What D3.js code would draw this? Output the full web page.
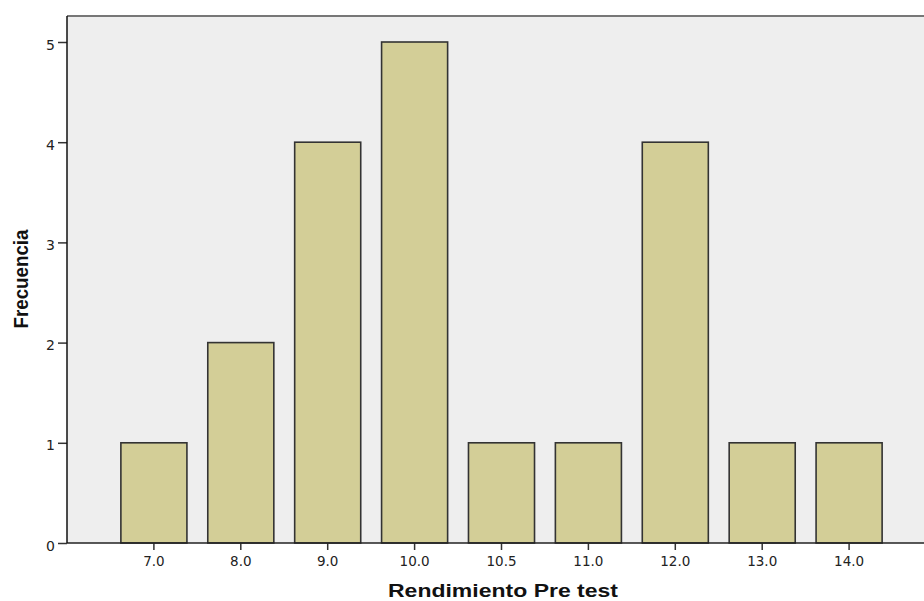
<!DOCTYPE html>
<html><head><meta charset="utf-8">
<script src="https://cdn.jsdelivr.net/npm/d3@7"></script>
<style>body{margin:0;background:#fff;overflow:hidden}</style>
</head><body>
<svg id="c" width="924" height="601"></svg>
<script>
const categories = ["7.0","8.0","9.0","10.0","10.5","11.0","12.0","13.0","14.0"];
const frequencies = [1,2,4,5,1,1,4,1,1];
const yTicks = [0,1,2,3,4,5];

(function(){
const svg = d3.select("#c");
const pL = 67, pT = 16, pB = 543, pR = 936;
const step = 86.9;
const x = d3.scaleBand().domain(categories)
  .range([pL + step/2, pR - step/2]).paddingInner(0.24).paddingOuter(0.12);
const y = d3.scaleLinear().domain([0,5]).range([pB, 42]);

svg.append("rect").attr("x", pL).attr("y", pT).attr("width", pR-pL).attr("height", pB-pT)
  .attr("fill", "#eeeeee");
svg.append("line").attr("x1", pL).attr("x2", pR).attr("y1", pT).attr("y2", pT)
  .attr("stroke", "#777").attr("stroke-width", 2);

svg.selectAll("rect.bar").data(frequencies).enter().append("rect").attr("class","bar")
  .attr("x", (d,i)=>x(categories[i])).attr("width", x.bandwidth())
  .attr("y", d=>y(d)).attr("height", d=>pB - y(d))
  .attr("fill", "#d3ce97").attr("stroke", "#333").attr("stroke-width", 1.6);

const xa = svg.append("g").attr("transform", `translate(0,${pB})`)
  .call(d3.axisBottom(x).tickSize(7).tickPadding(6).tickSizeOuter(0));
xa.select(".domain").remove();
svg.append("line").attr("x1", pL).attr("x2", pR).attr("y1", pB).attr("y2", pB)
  .attr("stroke", "#222").attr("stroke-width", 1.5);

const ya = svg.append("g").attr("transform", `translate(${pL},0)`)
  .call(d3.axisLeft(y).tickValues(yTicks).tickFormat(d3.format("d")).tickSize(9).tickPadding(3).tickSizeOuter(0));
ya.select(".domain").remove();
svg.append("line").attr("x1", pL).attr("x2", pL).attr("y1", pT).attr("y2", pB)
  .attr("stroke", "#111").attr("stroke-width", 1.5);

svg.selectAll(".tick line").attr("stroke", "#333").attr("stroke-width", 1.5);
xa.selectAll(".tick text").attr("font-family", "DejaVu Sans, sans-serif").attr("font-size", 13.5).attr("fill", "#222");
ya.selectAll(".tick text").attr("font-family", "DejaVu Sans, sans-serif").attr("font-size", 14).attr("fill", "#222")
  .attr("dy", "0.5em");

svg.append("text").attr("x", 503).attr("y", 597).attr("text-anchor", "middle")
  .attr("font-family", "Liberation Sans, Arial, sans-serif").attr("font-weight", "bold").attr("font-size", 18)
  .attr("textLength", 230).attr("lengthAdjust", "spacingAndGlyphs")
  .attr("fill", "#111").text("Rendimiento Pre test");
svg.append("text").attr("transform", "translate(28,279) rotate(-90)").attr("text-anchor", "middle")
  .attr("font-family", "Liberation Sans, Arial, sans-serif").attr("font-weight", "bold").attr("font-size", 21)
  .attr("textLength", 99).attr("lengthAdjust", "spacingAndGlyphs")
  .attr("fill", "#111").text("Frecuencia");
})();
</script>
</body></html>
